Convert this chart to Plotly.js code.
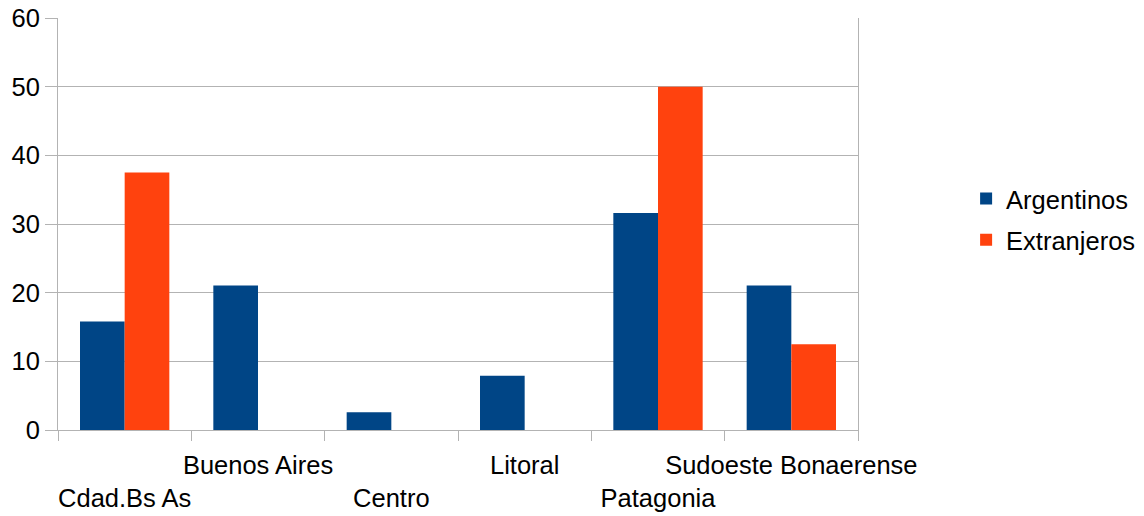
<!DOCTYPE html>
<html>
<head>
<meta charset="utf-8">
<script src="https://cdn.plot.ly/plotly-3.0.1.min.js"></script>
<style>html,body{margin:0;padding:0;background:#fff;}#chart{width:1144px;height:516px;}</style>
</head>
<body>
<div id="chart"></div>
<script>
var categories = ["Cdad.Bs As", "Buenos Aires", "Centro", "Litoral", "Patagonia", "Sudoeste Bonaerense"];
var argentinos = [15.8, 21.05, 2.6, 7.9, 31.6, 21.05];
var extranjeros = [37.5, 0, 0, 0, 50, 12.5];
var yTicks = [0, 10, 20, 30, 40, 50, 60];

// staggered category labels: even index on lower row
var tickLabels = categories.map(function (c, i) { return i % 2 === 0 ? "<br>" + c : c; });

var font = {family: "Liberation Sans, Arial, sans-serif", size: 25.5, color: "#000"};

var data = [
  {type: "bar", name: "Argentinos", legendgroup: "a", x: categories, y: argentinos, marker: {color: "#004586"}},
  {type: "bar", name: "Extranjeros", legendgroup: "b", x: categories, y: extranjeros, marker: {color: "#ff420e"}}
];

var layout = {
  width: 1144, height: 516,
  margin: {l: 58, r: 286, t: 18, b: 86, autoexpand: false},
  paper_bgcolor: "#fff", plot_bgcolor: "#fff",
  font: font,
  barmode: "group",
  bargap: 0.33,
  bargroupgap: 0,
  showlegend: true,
  legend: {xref: "container", yref: "container", x: 0.8445, xanchor: "left", y: 0.5746, yanchor: "middle", font: font,
           traceorder: "grouped", tracegroupgap: 5, itemsizing: "constant"},
  xaxis: {
    type: "category",
    tickmode: "array", tickvals: categories, ticktext: tickLabels,
    tickson: "boundaries",
    ticks: "outside", ticklen: 10, tickcolor: "#b3b3b3", tickwidth: 1,
    ticklabelstandoff: 12,
    showline: true, linecolor: "#b3b3b3", linewidth: 1,
    showgrid: false, zeroline: false,
    tickfont: font, tickangle: 0
  },
  yaxis: {
    range: [0, 60],
    tickmode: "array", tickvals: yTicks, ticktext: yTicks.map(String),
    ticks: "outside", ticklen: 12, tickcolor: "#b3b3b3", tickwidth: 1,
    showline: true, mirror: true, linecolor: "#b3b3b3", linewidth: 1,
    showgrid: true, gridcolor: "#b3b3b3", gridwidth: 1,
    zeroline: false,
    tickfont: font
  }
};

Plotly.newPlot("chart", data, layout, {displayModeBar: false, staticPlot: true});
</script>
</body>
</html>
